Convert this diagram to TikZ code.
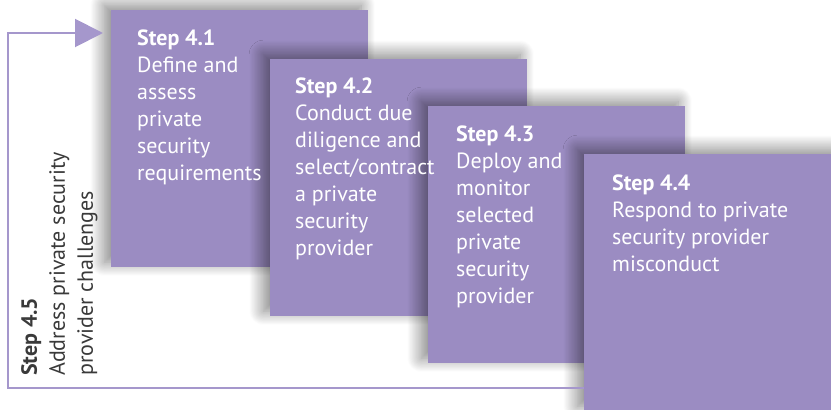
\documentclass[tikz,border=0pt]{standalone}
\usepackage{fontspec}
\setmainfont{PT Sans}
\usetikzlibrary{positioning,arrows.meta,shadows.blur}
\definecolor{stepviolet}{HTML}{9B8CC2}
\definecolor{looplilac}{HTML}{A597CC}
\definecolor{labelgray}{HTML}{3A3A3A}
\begin{document}
\begin{tikzpicture}[x=1pt,y=-1pt]
\tikzstyle{stepbox} = [fill=stepviolet, minimum width=257pt, minimum height=257pt, anchor=north west, inner sep=0pt, blur shadow={shadow xshift=-7pt, shadow yshift=5pt, shadow blur radius=14pt, shadow blur steps=24, shadow opacity=50}]
\tikzstyle{steptext} = [text=white, align=left, inner sep=0pt, font=\fontsize{22}{27}\selectfont]
\tikzstyle{loop} = [draw=looplilac, line width=2pt]
\useasboundingbox (0,0) rectangle (831,410);

\node[stepbox] (b1) at (111,10) {};
\node[stepbox] (b2) at (270,59) {};
\node[stepbox] (b3) at (428,106) {};
\node[stepbox] (b4) at (584,154) {};

\node[steptext, below right=20pt and 26pt of b1.north west] (t1) {\textbf{Step 4.1}\\Define and\\assess\\private\\security\\requirements};
\node[steptext, below right=19pt and 25pt of b2.north west] (t2) {\textbf{Step 4.2}\\Conduct due\\diligence and\\select/contract\\a private\\security\\provider};
\node[steptext, below right=20pt and 28pt of b3.north west] (t3) {\textbf{Step 4.3}\\Deploy and\\monitor\\selected\\private\\security\\provider};
\node[steptext, below right=21pt and 28pt of b4.north west] (t4) {\textbf{Step 4.4}\\Respond to private\\security provider\\misconduct};

\coordinate (lb) at (8,388);
\coordinate (lt) at (8,33);
\draw[loop, -{Triangle[length=28pt,width=28pt]}, shorten >=8pt] (b4.west |- lb) -- (lb) -- (lt) -- (b1.west |- lt);

\node[rotate=90, anchor=north west, inner sep=0pt, align=left, text=labelgray, font=\fontsize{22}{28}\selectfont] (t5) at (21,376) {\textbf{Step 4.5}\\Address private security\\provider challenges};
\end{tikzpicture}
\end{document}
